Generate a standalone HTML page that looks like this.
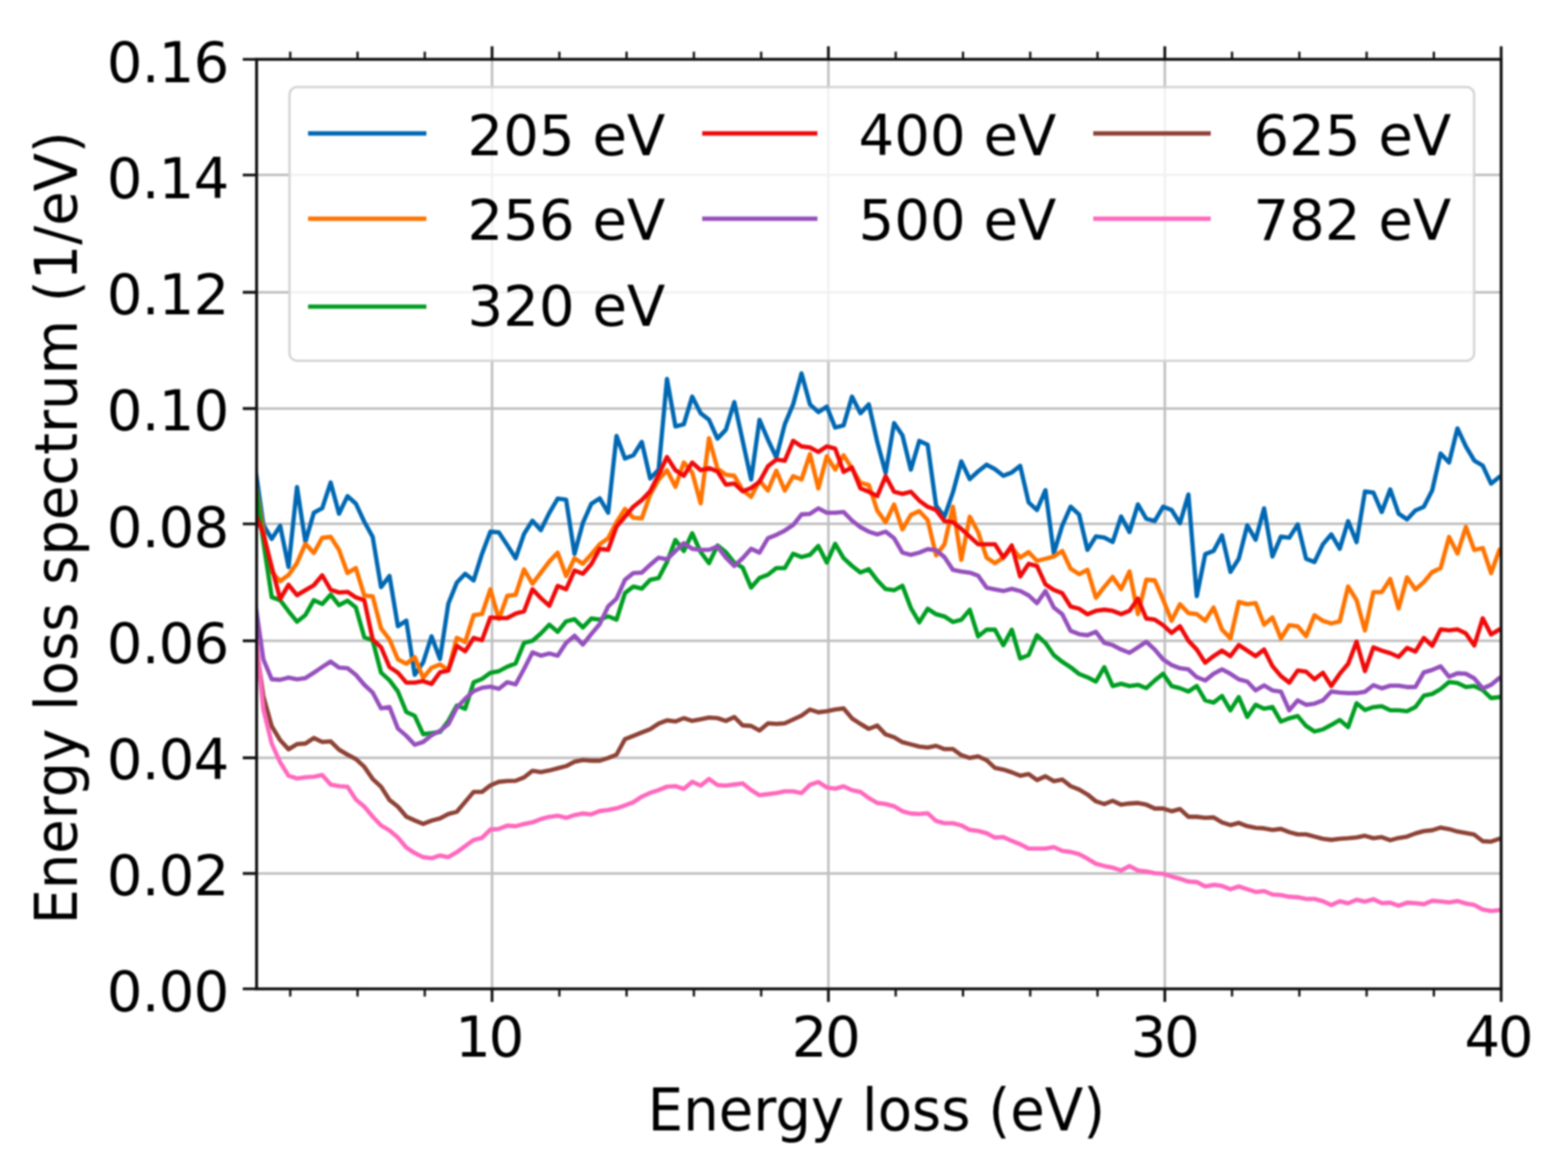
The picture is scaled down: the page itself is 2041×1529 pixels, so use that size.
<!DOCTYPE html><html><head><meta charset="utf-8"><style>html,body{margin:0;padding:0;background:#fff;}svg{display:block;filter:blur(1.0px)}text{font-family:"DejaVu Sans","Liberation Sans",sans-serif;fill:#000}</style></head><body>
<svg width="2041" height="1529" viewBox="0 0 2041 1529">
<rect width="2041" height="1529" fill="#fff"/>
<path d="M640.5 77.2V1286.8M1078.3 77.2V1286.8M1516.2 77.2V1286.8M334.0 1136.6H1954.0M334.0 986.1H1954.0M334.0 833.9H1954.0M334.0 681.7H1954.0M334.0 531.6H1954.0M334.0 380.4H1954.0M334.0 227.7H1954.0" stroke="#bfbfbf" stroke-width="3.2" fill="none"/>
<defs><clipPath id="c"><rect x="334.0" y="77.2" width="1620.0" height="1209.6"/></clipPath></defs>
<g clip-path="url(#c)" fill="none" stroke-width="5.6" stroke-linejoin="round" stroke-linecap="butt">
<path d="M331.9 606.0 L342.8 683.0 L353.7 701.2 L364.7 684.2 L375.6 737.8 L386.6 633.8 L397.5 705.1 L408.5 667.2 L419.4 661.3 L430.4 627.9 L441.3 668.5 L452.3 645.6 L463.2 655.4 L474.2 679.0 L485.1 698.6 L496.0 764.0 L507.0 749.5 L517.9 814.8 L528.9 807.6 L539.8 878.1 L550.8 862.0 L561.7 828.0 L572.7 857.6 L583.6 785.5 L594.6 758.1 L605.5 746.6 L616.5 755.3 L627.4 720.7 L638.3 691.9 L649.3 692.7 L660.2 709.2 L671.2 726.5 L682.1 694.8 L693.1 677.6 L704.0 689.8 L715.0 667.5 L725.9 648.8 L736.9 650.2 L747.8 720.7 L758.7 680.4 L769.7 655.7 L780.6 648.5 L791.6 667.2 L802.5 567.2 L813.5 596.7 L824.4 592.4 L835.4 575.1 L846.3 622.6 L857.3 611.1 L868.2 493.1 L879.2 555.0 L890.1 552.1 L901.0 516.1 L912.0 537.7 L922.9 546.3 L933.9 570.8 L944.8 559.3 L955.8 523.3 L966.7 573.7 L977.7 624.0 L988.6 546.3 L999.6 572.2 L1010.5 595.3 L1021.5 552.1 L1032.4 526.2 L1043.3 485.9 L1054.3 526.2 L1065.2 536.3 L1076.2 529.1 L1087.1 556.4 L1098.1 553.5 L1109.0 516.1 L1120.0 537.7 L1130.9 526.2 L1141.9 575.1 L1152.8 615.4 L1163.8 550.6 L1174.7 566.5 L1185.6 611.1 L1196.6 573.7 L1207.5 578.8 L1218.5 658.0 L1229.4 672.4 L1240.4 640.7 L1251.3 600.4 L1262.3 623.5 L1273.2 613.4 L1284.2 604.7 L1295.1 610.5 L1306.0 619.1 L1317.0 614.8 L1327.9 606.2 L1338.9 653.7 L1349.8 663.7 L1360.8 637.8 L1371.7 719.9 L1382.7 683.9 L1393.6 659.4 L1404.6 669.5 L1415.5 715.5 L1426.5 698.1 L1437.4 699.6 L1448.3 705.3 L1459.3 672.2 L1470.2 692.4 L1481.2 656.4 L1492.1 675.1 L1503.1 678.0 L1514.0 659.3 L1525.0 663.6 L1535.9 680.9 L1546.9 643.5 L1557.8 775.8 L1568.8 721.2 L1579.7 716.8 L1590.6 696.7 L1601.6 744.2 L1612.5 726.9 L1623.5 683.7 L1634.4 702.4 L1645.4 661.5 L1656.3 724.2 L1667.3 698.3 L1678.2 699.7 L1689.2 682.4 L1700.1 727.1 L1711.0 731.4 L1722.0 708.3 L1732.9 695.4 L1743.9 714.1 L1754.8 678.1 L1765.8 705.5 L1776.7 639.6 L1787.7 641.0 L1798.6 666.3 L1809.6 636.8 L1820.5 668.4 L1831.5 675.9 L1842.4 664.2 L1853.3 659.5 L1864.3 637.9 L1875.2 590.2 L1886.2 601.9 L1897.1 557.5 L1908.1 581.0 L1919.0 599.3 L1930.0 605.9 L1940.9 629.4 L1951.9 620.3 L1962.8 620.3" stroke="#0068b2"/>
<path d="M331.9 625.0 L342.8 692.0 L353.7 744.3 L364.7 756.1 L375.6 748.3 L386.6 732.6 L397.5 707.7 L408.5 719.5 L419.4 699.9 L430.4 698.6 L441.3 715.6 L452.3 745.7 L463.2 739.1 L474.2 775.0 L485.1 776.0 L496.0 817.7 L507.0 832.1 L517.9 858.0 L528.9 863.7 L539.8 855.1 L550.8 882.0 L561.7 869.0 L572.7 864.7 L583.6 872.0 L594.6 830.0 L605.5 835.5 L616.5 800.6 L627.4 799.1 L638.3 766.8 L649.3 805.6 L660.2 775.4 L671.2 774.0 L682.1 740.9 L693.1 759.6 L704.0 745.2 L715.0 730.8 L725.9 719.3 L736.9 749.5 L747.8 726.5 L758.7 733.7 L769.7 721.3 L780.6 708.3 L791.6 700.4 L802.5 679.6 L813.5 662.3 L824.4 673.8 L835.4 674.5 L846.3 643.6 L857.3 624.2 L868.2 611.9 L879.2 633.5 L890.1 601.9 L901.0 614.8 L912.0 655.1 L922.9 570.2 L933.9 609.8 L944.8 617.7 L955.8 619.1 L966.7 637.8 L977.7 646.5 L988.6 625.5 L999.6 638.4 L1010.5 612.5 L1021.5 638.4 L1032.4 619.7 L1043.3 624.0 L1054.3 590.9 L1065.2 635.5 L1076.2 593.8 L1087.1 611.1 L1098.1 592.4 L1109.0 609.6 L1120.0 628.3 L1130.9 631.2 L1141.9 664.3 L1152.8 679.5 L1163.8 656.5 L1174.7 688.9 L1185.6 670.1 L1196.6 665.1 L1207.5 676.7 L1218.5 722.7 L1229.4 708.3 L1240.4 659.4 L1251.3 728.5 L1262.3 672.4 L1273.2 692.5 L1284.2 725.6 L1295.1 732.8 L1306.0 725.6 L1317.0 712.7 L1327.9 725.6 L1338.9 718.4 L1349.8 729.9 L1360.8 727.1 L1371.7 724.2 L1382.7 717.0 L1393.6 740.0 L1404.6 747.2 L1415.5 741.4 L1426.5 777.8 L1437.4 763.7 L1448.3 750.8 L1459.3 766.6 L1470.2 743.6 L1481.2 799.1 L1492.1 754.4 L1503.1 755.1 L1514.0 780.4 L1525.0 807.8 L1535.9 786.2 L1546.9 797.7 L1557.8 799.1 L1568.8 807.8 L1579.7 790.5 L1590.6 819.3 L1601.6 830.8 L1612.5 783.3 L1623.5 786.2 L1634.4 784.7 L1645.4 812.8 L1656.3 803.5 L1667.3 830.8 L1678.2 813.5 L1689.2 815.0 L1700.1 827.9 L1711.0 800.6 L1722.0 807.8 L1732.9 811.4 L1743.9 808.5 L1754.8 763.2 L1765.8 780.9 L1776.7 820.5 L1787.7 770.5 L1798.6 770.5 L1809.6 753.4 L1820.5 791.8 L1831.5 751.3 L1842.4 767.1 L1853.3 757.5 L1864.3 744.4 L1875.2 739.2 L1886.2 698.7 L1897.1 720.3 L1908.1 685.7 L1919.0 715.7 L1930.0 713.1 L1940.9 745.8 L1951.9 715.1 L1962.8 715.1" stroke="#ff7300"/>
<path d="M331.9 627.0 L342.8 705.0 L353.7 777.0 L364.7 781.0 L375.6 795.4 L386.6 809.1 L397.5 800.4 L408.5 781.0 L419.4 786.0 L430.4 773.8 L441.3 787.5 L452.3 781.7 L463.2 790.4 L474.2 829.2 L485.1 833.5 L496.0 875.3 L507.0 885.3 L517.9 899.7 L528.9 926.5 L539.8 931.5 L550.8 955.4 L561.7 954.0 L572.7 952.5 L583.6 938.1 L594.6 918.0 L605.5 922.3 L616.5 887.8 L627.4 883.5 L638.3 875.5 L649.3 873.4 L660.2 867.6 L671.2 863.3 L682.1 836.6 L693.1 833.8 L704.0 824.4 L715.0 812.9 L725.9 822.2 L736.9 808.6 L747.8 805.7 L758.7 816.5 L769.7 804.9 L780.6 806.3 L791.6 802.0 L802.5 806.3 L813.5 771.8 L824.4 763.2 L835.4 766.0 L846.3 754.5 L857.3 752.3 L868.2 731.4 L879.2 702.6 L890.1 717.0 L901.0 694.0 L912.0 718.4 L922.9 732.9 L933.9 709.8 L944.8 718.4 L955.8 732.2 L966.7 738.6 L977.7 764.6 L988.6 752.2 L999.6 747.9 L1010.5 739.3 L1021.5 739.3 L1032.4 720.6 L1043.3 724.9 L1054.3 722.0 L1065.2 710.5 L1076.2 732.1 L1087.1 707.6 L1098.1 726.3 L1109.0 736.4 L1120.0 745.0 L1130.9 740.7 L1141.9 755.1 L1152.8 766.6 L1163.8 768.1 L1174.7 762.3 L1185.6 791.1 L1196.6 809.8 L1207.5 792.1 L1218.5 799.3 L1229.4 802.2 L1240.4 809.4 L1251.3 806.5 L1262.3 793.5 L1273.2 828.1 L1284.2 819.4 L1295.1 819.4 L1306.0 839.6 L1317.0 819.4 L1327.9 856.8 L1338.9 852.5 L1349.8 826.6 L1360.8 836.7 L1371.7 852.5 L1382.7 861.2 L1393.6 868.3 L1404.6 877.0 L1415.5 881.3 L1426.5 886.9 L1437.4 868.2 L1448.3 892.7 L1459.3 889.8 L1470.2 892.7 L1481.2 891.2 L1492.1 895.5 L1503.1 885.5 L1514.0 876.8 L1525.0 892.7 L1535.9 895.5 L1546.9 899.9 L1557.8 892.7 L1568.8 911.4 L1579.7 914.2 L1590.6 905.6 L1601.6 924.3 L1612.5 907.1 L1623.5 932.9 L1634.4 917.1 L1645.4 922.2 L1656.3 920.0 L1667.3 939.0 L1678.2 934.7 L1689.2 931.8 L1700.1 944.7 L1711.0 951.9 L1722.0 949.1 L1732.9 943.3 L1743.9 936.8 L1754.8 946.2 L1765.8 915.1 L1776.7 923.9 L1787.7 920.2 L1798.6 919.0 L1809.6 924.3 L1820.5 924.3 L1831.5 925.5 L1842.4 920.1 L1853.3 905.3 L1864.3 903.0 L1875.2 896.6 L1886.2 887.5 L1897.1 888.8 L1908.1 894.0 L1919.0 892.7 L1930.0 897.9 L1940.9 908.4 L1951.9 907.1 L1962.8 907.1" stroke="#009e22"/>
<path d="M331.9 667.0 L342.8 695.0 L353.7 737.7 L364.7 779.5 L375.6 761.0 L386.6 774.5 L397.5 768.0 L408.5 761.6 L419.4 748.6 L430.4 767.3 L441.3 771.0 L452.3 770.2 L463.2 777.4 L474.2 781.0 L485.1 832.1 L496.0 842.2 L507.0 868.0 L517.9 875.3 L528.9 888.2 L539.8 888.2 L550.8 886.3 L561.7 890.0 L572.7 874.8 L583.6 872.7 L594.6 840.3 L605.5 847.5 L616.5 830.2 L627.4 833.1 L638.3 803.5 L649.3 804.2 L660.2 804.2 L671.2 798.4 L682.1 795.5 L693.1 766.8 L704.0 778.3 L715.0 788.3 L725.9 762.4 L736.9 766.8 L747.8 742.3 L758.7 746.6 L769.7 734.2 L780.6 714.1 L791.6 715.5 L802.5 685.3 L813.5 672.4 L824.4 659.4 L835.4 650.8 L846.3 639.3 L857.3 617.7 L868.2 594.7 L879.2 611.9 L890.1 619.1 L901.0 601.9 L912.0 611.9 L922.9 609.1 L933.9 613.4 L944.8 630.6 L955.8 629.2 L966.7 639.3 L977.7 635.0 L988.6 626.9 L999.6 606.8 L1010.5 598.1 L1021.5 599.6 L1032.4 573.7 L1043.3 580.9 L1054.3 582.3 L1065.2 588.1 L1076.2 580.9 L1087.1 583.7 L1098.1 614.0 L1109.0 608.2 L1120.0 635.5 L1130.9 639.9 L1141.9 645.6 L1152.8 619.7 L1163.8 639.9 L1174.7 642.7 L1185.6 639.9 L1196.6 651.4 L1207.5 659.4 L1218.5 663.7 L1229.4 678.1 L1240.4 679.6 L1251.3 688.2 L1262.3 698.3 L1273.2 708.3 L1284.2 708.3 L1295.1 708.3 L1306.0 725.6 L1317.0 709.8 L1327.9 750.1 L1338.9 733.7 L1349.8 736.5 L1360.8 760.4 L1371.7 767.6 L1382.7 771.9 L1393.6 789.2 L1404.6 792.1 L1415.5 799.3 L1426.5 794.8 L1437.4 793.4 L1448.3 794.8 L1459.3 799.1 L1470.2 794.8 L1481.2 779.0 L1492.1 804.9 L1503.1 806.3 L1514.0 813.5 L1525.0 823.6 L1535.9 815.0 L1546.9 833.7 L1557.8 845.2 L1568.8 862.4 L1579.7 853.8 L1590.6 846.6 L1601.6 853.8 L1612.5 839.4 L1623.5 846.6 L1634.4 853.8 L1645.4 845.2 L1656.3 866.8 L1667.3 879.7 L1678.2 888.3 L1689.2 872.5 L1700.1 874.0 L1711.0 884.0 L1722.0 875.4 L1732.9 892.7 L1743.9 876.8 L1754.8 863.9 L1765.8 834.9 L1776.7 873.3 L1787.7 842.4 L1798.6 846.6 L1809.6 850.0 L1820.5 854.8 L1831.5 843.1 L1842.4 847.9 L1853.3 830.1 L1864.3 840.4 L1875.2 819.0 L1886.2 820.3 L1897.1 819.0 L1908.1 824.3 L1919.0 840.0 L1930.0 804.6 L1940.9 825.6 L1951.9 819.0 L1962.8 819.0" stroke="#f00a0a"/>
<path d="M331.9 782.0 L342.8 858.0 L353.7 883.9 L364.7 884.6 L375.6 881.7 L386.6 883.9 L397.5 882.4 L408.5 875.3 L419.4 868.0 L430.4 860.9 L441.3 868.8 L452.3 869.5 L463.2 878.1 L474.2 891.1 L485.1 901.2 L496.0 921.8 L507.0 920.0 L517.9 948.0 L528.9 957.5 L539.8 969.1 L550.8 965.5 L561.7 956.8 L572.7 951.1 L583.6 942.4 L594.6 920.9 L605.5 909.4 L616.5 899.3 L627.4 895.0 L638.3 893.5 L649.3 896.4 L660.2 887.8 L671.2 890.6 L682.1 870.5 L693.1 848.9 L704.0 853.2 L715.0 850.4 L725.9 853.2 L736.9 836.6 L747.8 827.3 L758.7 838.7 L769.7 825.0 L780.6 812.1 L791.6 789.1 L802.5 779.0 L813.5 754.5 L824.4 745.8 L835.4 745.1 L846.3 735.0 L857.3 725.7 L868.2 727.8 L879.2 717.0 L890.1 706.9 L901.0 714.1 L912.0 715.5 L922.9 715.5 L933.9 711.2 L944.8 725.6 L955.8 736.5 L966.7 726.4 L977.7 714.1 L988.6 719.1 L999.6 700.4 L1010.5 696.1 L1021.5 690.4 L1032.4 683.2 L1043.3 669.4 L1054.3 668.7 L1065.2 661.5 L1076.2 667.3 L1087.1 667.3 L1098.1 666.2 L1109.0 677.4 L1120.0 686.0 L1130.9 691.8 L1141.9 695.4 L1152.8 691.8 L1163.8 700.4 L1174.7 719.1 L1185.6 722.0 L1196.6 719.1 L1207.5 714.6 L1218.5 716.0 L1229.4 725.0 L1240.4 741.6 L1251.3 743.7 L1262.3 745.2 L1273.2 749.1 L1284.2 764.7 L1295.1 766.9 L1306.0 769.1 L1317.0 766.2 L1327.9 769.1 L1338.9 774.8 L1349.8 784.9 L1360.8 769.1 L1371.7 790.6 L1382.7 799.3 L1393.6 820.9 L1404.6 825.2 L1415.5 826.6 L1426.5 822.2 L1437.4 836.5 L1448.3 839.4 L1459.3 845.2 L1470.2 849.5 L1481.2 842.3 L1492.1 835.1 L1503.1 845.2 L1514.0 858.1 L1525.0 865.3 L1535.9 869.6 L1546.9 871.1 L1557.8 881.2 L1568.8 885.5 L1579.7 876.8 L1590.6 871.1 L1601.6 876.8 L1612.5 884.0 L1623.5 886.9 L1634.4 898.4 L1645.4 891.9 L1656.3 898.4 L1667.3 899.9 L1678.2 924.3 L1689.2 911.4 L1700.1 917.1 L1711.0 915.7 L1722.0 911.4 L1732.9 899.9 L1743.9 901.3 L1754.8 902.0 L1765.8 901.9 L1776.7 900.2 L1787.7 891.6 L1798.6 895.7 L1809.6 892.3 L1820.5 892.3 L1831.5 894.1 L1842.4 893.9 L1853.3 875.0 L1864.3 871.8 L1875.2 867.0 L1886.2 880.7 L1897.1 876.1 L1908.1 876.8 L1919.0 882.7 L1930.0 895.8 L1940.9 891.2 L1951.9 882.0 L1962.8 882.0" stroke="#9550bd"/>
<path d="M331.9 830.0 L342.8 906.0 L353.7 945.0 L364.7 963.2 L375.6 975.0 L386.6 968.3 L397.5 967.6 L408.5 960.4 L419.4 965.5 L430.4 964.7 L441.3 975.5 L452.3 982.0 L463.2 987.8 L474.2 997.8 L485.1 1013.7 L496.0 1023.7 L507.0 1041.0 L517.9 1049.6 L528.9 1062.6 L539.8 1067.6 L550.8 1072.2 L561.7 1067.9 L572.7 1065.0 L583.6 1059.3 L594.6 1056.4 L605.5 1043.5 L616.5 1030.5 L627.4 1030.5 L638.3 1022.0 L649.3 1017.4 L660.2 1016.3 L671.2 1016.0 L682.1 1011.6 L693.1 1003.0 L704.0 1004.8 L715.0 1002.6 L725.9 999.8 L736.9 996.9 L747.8 991.2 L758.7 989.0 L769.7 989.9 L780.6 989.9 L791.6 986.3 L802.5 982.0 L813.5 961.9 L824.4 957.6 L835.4 953.2 L846.3 948.9 L857.3 941.7 L868.2 937.4 L879.2 938.8 L890.1 934.5 L901.0 938.1 L912.0 936.0 L922.9 933.8 L933.9 934.5 L944.8 938.1 L955.8 933.1 L966.7 943.9 L977.7 944.6 L988.6 950.6 L999.6 941.3 L1010.5 942.0 L1021.5 941.3 L1032.4 936.3 L1043.3 931.2 L1054.3 923.3 L1065.2 926.9 L1076.2 925.5 L1087.1 923.3 L1098.1 921.9 L1109.0 934.8 L1120.0 942.0 L1130.9 948.5 L1141.9 944.2 L1152.8 955.7 L1163.8 959.3 L1174.7 965.8 L1185.6 968.6 L1196.6 971.5 L1207.5 972.7 L1218.5 970.5 L1229.4 974.8 L1240.4 974.8 L1251.3 982.7 L1262.3 986.3 L1273.2 984.2 L1284.2 989.2 L1295.1 999.3 L1306.0 1001.4 L1317.0 1005.0 L1327.9 1009.4 L1338.9 1007.2 L1349.8 1015.1 L1360.8 1010.1 L1371.7 1016.5 L1382.7 1014.4 L1393.6 1023.0 L1404.6 1027.3 L1415.5 1033.8 L1426.5 1042.7 L1437.4 1046.3 L1448.3 1042.0 L1459.3 1047.1 L1470.2 1045.6 L1481.2 1044.9 L1492.1 1047.1 L1503.1 1052.1 L1514.0 1052.1 L1525.0 1055.7 L1535.9 1052.8 L1546.9 1062.9 L1557.8 1062.9 L1568.8 1064.3 L1579.7 1063.6 L1590.6 1070.1 L1601.6 1073.7 L1612.5 1070.8 L1623.5 1075.1 L1634.4 1077.3 L1645.4 1077.9 L1656.3 1080.0 L1667.3 1078.6 L1678.2 1082.9 L1689.2 1085.8 L1700.1 1085.8 L1711.0 1088.6 L1722.0 1091.5 L1732.9 1092.9 L1743.9 1091.5 L1754.8 1090.8 L1765.8 1089.7 L1776.7 1087.6 L1787.7 1090.7 L1798.6 1089.3 L1809.6 1093.4 L1820.5 1090.4 L1831.5 1088.7 L1842.4 1084.5 L1853.3 1081.5 L1864.3 1080.4 L1875.2 1076.9 L1886.2 1078.9 L1897.1 1082.1 L1908.1 1084.1 L1919.0 1086.1 L1930.0 1094.6 L1940.9 1095.2 L1951.9 1091.3 L1962.8 1091.3" stroke="#8e4236"/>
<path d="M331.9 815.0 L342.8 923.0 L353.7 967.6 L364.7 992.1 L375.6 1009.4 L386.6 1013.0 L397.5 1011.5 L408.5 1010.8 L419.4 1008.6 L430.4 1020.9 L441.3 1023.0 L452.3 1023.7 L463.2 1040.3 L474.2 1049.6 L485.1 1062.6 L496.0 1074.1 L507.0 1080.6 L517.9 1089.9 L528.9 1102.9 L539.8 1110.1 L550.8 1115.4 L561.7 1116.8 L572.7 1113.2 L583.6 1115.4 L594.6 1108.9 L605.5 1101.0 L616.5 1093.1 L627.4 1090.2 L638.3 1079.4 L649.3 1078.7 L660.2 1074.4 L671.2 1075.1 L682.1 1072.2 L693.1 1070.1 L704.0 1065.8 L715.0 1062.9 L725.9 1061.4 L736.9 1064.3 L747.8 1060.7 L758.7 1058.6 L769.7 1059.7 L780.6 1055.4 L791.6 1054.0 L802.5 1051.8 L813.5 1048.2 L824.4 1043.9 L835.4 1036.7 L846.3 1031.7 L857.3 1028.1 L868.2 1023.7 L879.2 1023.0 L890.1 1026.6 L901.0 1017.3 L912.0 1022.3 L922.9 1013.7 L933.9 1021.6 L944.8 1022.3 L955.8 1020.9 L966.7 1019.4 L977.7 1028.1 L988.6 1034.8 L999.6 1033.4 L1010.5 1031.9 L1021.5 1029.8 L1032.4 1029.8 L1043.3 1031.9 L1054.3 1021.2 L1065.2 1017.6 L1076.2 1024.7 L1087.1 1026.2 L1098.1 1023.3 L1109.0 1028.3 L1120.0 1030.5 L1130.9 1038.4 L1141.9 1044.9 L1152.8 1046.3 L1163.8 1049.2 L1174.7 1055.7 L1185.6 1058.6 L1196.6 1059.3 L1207.5 1058.3 L1218.5 1068.3 L1229.4 1071.2 L1240.4 1071.2 L1251.3 1074.1 L1262.3 1079.9 L1273.2 1081.3 L1284.2 1084.2 L1295.1 1089.9 L1306.0 1089.2 L1317.0 1094.2 L1327.9 1098.6 L1338.9 1104.3 L1349.8 1104.3 L1360.8 1104.3 L1371.7 1102.2 L1382.7 1107.2 L1393.6 1108.6 L1404.6 1111.5 L1415.5 1117.3 L1426.5 1124.0 L1437.4 1126.9 L1448.3 1129.1 L1459.3 1132.7 L1470.2 1126.9 L1481.2 1132.7 L1492.1 1134.1 L1503.1 1136.3 L1514.0 1137.0 L1525.0 1140.6 L1535.9 1143.5 L1546.9 1147.1 L1557.8 1147.8 L1568.8 1153.5 L1579.7 1151.4 L1590.6 1152.8 L1601.6 1157.1 L1612.5 1153.5 L1623.5 1157.1 L1634.4 1160.7 L1645.4 1159.5 L1656.3 1164.0 L1667.3 1164.7 L1678.2 1166.9 L1689.2 1167.6 L1700.1 1169.8 L1711.0 1169.8 L1722.0 1172.7 L1732.9 1177.7 L1743.9 1172.7 L1754.8 1175.5 L1765.8 1170.8 L1776.7 1173.2 L1787.7 1170.1 L1798.6 1175.2 L1809.6 1174.6 L1820.5 1178.7 L1831.5 1174.6 L1842.4 1175.2 L1853.3 1176.6 L1864.3 1172.1 L1875.2 1173.0 L1886.2 1174.3 L1897.1 1172.4 L1908.1 1175.7 L1919.0 1177.6 L1930.0 1183.5 L1940.9 1185.5 L1951.9 1184.2 L1962.8 1184.2" stroke="#ff68bd"/>
</g>
<rect x="334.0" y="77.2" width="1620.0" height="1209.6" fill="none" stroke="#111" stroke-width="3.8"/>
<path d="M316.0 1286.8H334.0M316.0 1136.6H334.0M316.0 986.1H334.0M316.0 833.9H334.0M316.0 681.7H334.0M316.0 531.6H334.0M316.0 380.4H334.0M316.0 227.7H334.0M316.0 77.2H334.0M640.5 1286.8v17M640.5 77.2v-17M1078.3 1286.8v17M1078.3 77.2v-17M1516.2 1286.8v17M1516.2 77.2v-17M1954.0 1286.8v17M1954.0 77.2v-17" stroke="#111" stroke-width="3.6" fill="none"/>
<path d="M377.8 1286.8v10M377.8 77.2v-10M465.4 1286.8v10M465.4 77.2v-10M552.9 1286.8v10M552.9 77.2v-10M728.1 1286.8v10M728.1 77.2v-10M815.6 1286.8v10M815.6 77.2v-10M903.2 1286.8v10M903.2 77.2v-10M990.8 1286.8v10M990.8 77.2v-10M1165.9 1286.8v10M1165.9 77.2v-10M1253.5 1286.8v10M1253.5 77.2v-10M1341.0 1286.8v10M1341.0 77.2v-10M1428.6 1286.8v10M1428.6 77.2v-10M1603.7 1286.8v10M1603.7 77.2v-10M1691.3 1286.8v10M1691.3 77.2v-10M1778.9 1286.8v10M1778.9 77.2v-10M1866.4 1286.8v10M1866.4 77.2v-10" stroke="#111" stroke-width="3.0" fill="none"/>
<text x="297.5" y="1316.3" font-size="73" text-anchor="end" letter-spacing="-1.0">0.00</text>
<text x="297.5" y="1165.1" font-size="73" text-anchor="end" letter-spacing="-1.0">0.02</text>
<text x="297.5" y="1013.9" font-size="73" text-anchor="end" letter-spacing="-1.0">0.04</text>
<text x="297.5" y="862.7" font-size="73" text-anchor="end" letter-spacing="-1.0">0.06</text>
<text x="297.5" y="711.5" font-size="73" text-anchor="end" letter-spacing="-1.0">0.08</text>
<text x="297.5" y="560.3" font-size="73" text-anchor="end" letter-spacing="-1.0">0.10</text>
<text x="297.5" y="409.1" font-size="73" text-anchor="end" letter-spacing="-1.0">0.12</text>
<text x="297.5" y="257.9" font-size="73" text-anchor="end" letter-spacing="-1.0">0.14</text>
<text x="297.5" y="106.7" font-size="73" text-anchor="end" letter-spacing="-1.0">0.16</text>
<text x="636.0" y="1375" font-size="73" text-anchor="middle" letter-spacing="-3.0">10</text>
<text x="1073.9" y="1375" font-size="73" text-anchor="middle" letter-spacing="-3.0">20</text>
<text x="1515.2" y="1375" font-size="73" text-anchor="middle" letter-spacing="-3.0">30</text>
<text x="1949.7" y="1375" font-size="73" text-anchor="middle" letter-spacing="-3.0">40</text>
<text transform="translate(843 1471) scale(0.9618 1)" x="0" y="0" font-size="76">Energy loss (eV)</text>
<text transform="translate(100 1203.1) rotate(-90) scale(0.9586 1)" x="0" y="0" font-size="76">Energy loss spectrum (1/eV)</text>
<rect x="376.8" y="113.2" width="1542" height="356.2" rx="10" ry="10" fill="#fff" fill-opacity="0.8" stroke="#d4d4d4" stroke-width="3"/>
<path d="M401 173.6H555" stroke="#0068b2" stroke-width="5.6"/>
<text x="608.6" y="201.7" font-size="73" letter-spacing="0">205 eV</text>
<path d="M401 284.6H555" stroke="#ff7300" stroke-width="5.6"/>
<text x="608.6" y="312.2" font-size="73" letter-spacing="0">256 eV</text>
<path d="M401 399.0H555" stroke="#009e22" stroke-width="5.6"/>
<text x="608.6" y="423.8" font-size="73" letter-spacing="0">320 eV</text>
<path d="M914 173.6H1064" stroke="#f00a0a" stroke-width="5.6"/>
<text x="1117.6" y="201.7" font-size="73" letter-spacing="0">400 eV</text>
<path d="M914 284.6H1064" stroke="#9550bd" stroke-width="5.6"/>
<text x="1117.6" y="312.2" font-size="73" letter-spacing="0">500 eV</text>
<path d="M1423 173.6H1576" stroke="#8e4236" stroke-width="5.6"/>
<text x="1631.6" y="201.7" font-size="73" letter-spacing="0">625 eV</text>
<path d="M1423 284.6H1576" stroke="#ff68bd" stroke-width="5.6"/>
<text x="1631.6" y="312.2" font-size="73" letter-spacing="0">782 eV</text>
</svg></body></html>
